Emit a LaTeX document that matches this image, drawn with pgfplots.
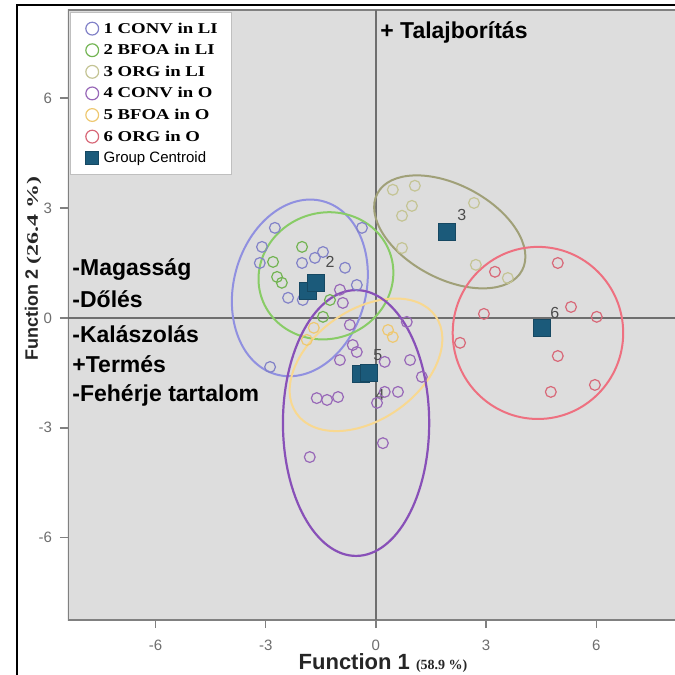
\documentclass[border=0pt]{standalone}
\usepackage{pgfplots}
\pgfplotsset{compat=1.18}
\usepackage{graphicx}
\usepackage{fontspec}
\setmainfont{Liberation Sans}
\newfontfamily\serif{Liberation Serif}
\definecolor{plotbg}{RGB}{221,221,221}
\definecolor{axcol}{RGB}{128,128,128}
\definecolor{crosscol}{RGB}{110,110,110}
\definecolor{ticcol}{RGB}{110,110,110}
\definecolor{cA}{HTML}{8282C8}
\definecolor{cB}{HTML}{72B452}
\definecolor{cC}{HTML}{C4C494}
\definecolor{cD}{HTML}{9868B8}
\definecolor{cE}{HTML}{EEC870}
\definecolor{cF}{HTML}{D86878}
\definecolor{eA}{HTML}{9090E0}
\definecolor{eB}{HTML}{88CC66}
\definecolor{eC}{HTML}{A0A078}
\definecolor{eD}{HTML}{8850B8}
\definecolor{eE}{HTML}{F8D890}
\definecolor{eF}{HTML}{EE7080}
\definecolor{cent}{HTML}{1B5A7A}
\begin{document}
\begin{tikzpicture}
\useasboundingbox (0pt,0pt) rectangle (337.5pt,337.5pt);
\fill[white] (0pt,0pt) rectangle (337.5pt,337.5pt);
\draw[black, line width=0.6pt] (8.5pt,-5pt) -- (8.5pt,335pt) -- (345pt,335pt);
\begin{axis}[
  at={(34pt,27.5pt)}, anchor=south west,
  width=303.5pt, height=305pt, scale only axis,
  xmin=-8.38, xmax=8.14, ymin=-8.25, ymax=8.41,
  axis background/.style={fill=plotbg},
  axis line style={draw=none},
  tick align=outside, xtick pos=left, ytick pos=left,
  major tick length=4pt,
  tick style={axcol, line width=0.8pt},
  xtick={-6,-3,0,3,6}, ytick={-6,-3,0,3,6},
  ticklabel style={font=\fontsize{7.5}{8}\selectfont, text=ticcol},
  xticklabel style={yshift=-2.5pt},
  yticklabel style={xshift=-0.5pt},
  /pgf/number format/assume math mode=true,
  legend cell align=left,
  legend style={at={(rel axis cs:0.004,0.996)}, anchor=north west,
    draw=gray!50, fill=white, line width=0.4pt,
    font=\fontsize{7.5}{8}\selectfont, inner xsep=6pt, inner ysep=2.5pt,
    row sep=0pt, nodes={inner sep=1pt, text height=6.6pt, text depth=2.2pt}},
  legend image code/.code={\path (-4.5pt,0pt) (4.5pt,0pt); \draw[#1] plot coordinates {(0pt,0pt)};},
  legend image post style={mark size=3.2pt},
]
% frame of plot area
\draw[axcol, line width=1.2pt] (rel axis cs:1.02,0) -- (rel axis cs:0,0) -- (rel axis cs:0,1) -- (rel axis cs:1.02,1);
% reference cross
\draw[crosscol, line width=0.7pt] (axis cs:0,-8.25) -- (axis cs:0,8.41);
\draw[crosscol, line width=0.7pt] (axis cs:-8.38,0) -- (axis cs:8.14,0);
% ellipses
\draw[eA, line width=1pt, rotate around={-15:(axis cs:-2.07,0.82)}] (axis cs:-2.07,0.82) ellipse [x radius=1.8, y radius=2.45];
\draw[eB, line width=1pt, rotate around={20:(axis cs:-1.36,1.15)}] (axis cs:-1.36,1.15) ellipse [x radius=1.85, y radius=1.72];
\draw[eC, line width=1pt, rotate around={-28:(axis cs:2.01,2.35)}] (axis cs:2.01,2.35) ellipse [x radius=2.23, y radius=1.28];
\draw[eE, line width=1pt, rotate around={35:(axis cs:-0.27,-1.28)}] (axis cs:-0.27,-1.28) ellipse [x radius=2.31, y radius=1.5];
\draw[eD, line width=1.1pt] (axis cs:-0.54,-2.87) ellipse [x radius=1.99, y radius=3.63];
\draw[eF, line width=1pt] (axis cs:4.41,-0.41) ellipse [x radius=2.32, y radius=2.35];
% groups
\addplot[only marks, mark=o, mark size=2.7pt, mark options={line width=0.6pt}, color=cA] coordinates {
(-2.75,2.46) (-3.10,1.94) (-3.16,1.50) (-1.66,1.64) (-1.44,1.80) (-2.01,1.50)
(-0.84,1.37) (-2.39,0.55) (-1.99,0.49) (-0.52,0.90) (-0.38,2.46) (-2.88,-1.34)};
\addlegendentry{\serif\bfseries\scalebox{1.25}[1]{1 CONV in LI}}
\addplot[only marks, mark=o, mark size=2.7pt, mark options={line width=0.6pt}, color=cB] coordinates {
(-2.01,1.94) (-2.80,1.53) (-2.69,1.12) (-2.56,0.96) (-1.25,0.49) (-1.44,0.03)};
\addlegendentry{\serif\bfseries\scalebox{1.25}[1]{2 BFOA in LI}}
\addplot[only marks, mark=o, mark size=2.7pt, mark options={line width=0.6pt}, color=cC] coordinates {
(0.46,3.50) (1.06,3.61) (0.98,3.06) (0.71,2.79) (2.67,3.14) (0.71,1.91) (2.72,1.45) (3.59,1.09)};
\addlegendentry{\serif\bfseries\scalebox{1.25}[1]{3 ORG in LI}}
\addplot[only marks, mark=o, mark size=2.7pt, mark options={line width=0.6pt}, color=cD] coordinates {
(-0.98,0.77) (-0.90,0.41) (-0.71,-0.19) (-0.63,-0.74) (-0.52,-0.93) (-0.98,-1.15)
(0.24,-1.20) (0.93,-1.15) (1.25,-1.61) (0.84,-0.11) (0.24,-2.02) (0.60,-2.02)
(0.03,-2.32) (-1.61,-2.19) (-1.33,-2.24) (-1.03,-2.16) (0.19,-3.42) (-1.80,-3.80)};
\addlegendentry{\serif\bfseries\scalebox{1.25}[1]{4 CONV in O}}
\addplot[only marks, mark=o, mark size=2.7pt, mark options={line width=0.6pt}, color=cE] coordinates {
(-1.69,-0.27) (-1.88,-0.60) (0.33,-0.33) (0.46,-0.52)};
\addlegendentry{\serif\bfseries\scalebox{1.25}[1]{5 BFOA in O}}
\addplot[only marks, mark=o, mark size=2.7pt, mark options={line width=0.6pt}, color=cF] coordinates {
(4.95,1.50) (3.24,1.26) (5.31,0.30) (6.01,0.03) (2.94,0.11) (2.29,-0.68)
(4.95,-1.04) (5.96,-1.83) (4.76,-2.02)};
\addlegendentry{\serif\bfseries\scalebox{1.25}[1]{6 ORG in O}}
\addplot[only marks, mark=square*, mark size=4.2pt, color=cent, mark options={fill=cent, draw=cent!80!black}] coordinates {
(-1.85,0.74) (-1.63,0.96) (1.93,2.35) (-0.41,-1.53) (-0.19,-1.50) (4.52,-0.27)};
\addlegendentry{Group Centroid}
% centroid labels
\node[font=\fontsize{8}{9}\selectfont, text=black!70] at (axis cs:-1.25,1.53) {2};
\node[font=\fontsize{8}{9}\selectfont, text=black!70] at (axis cs:2.34,2.81) {3};
\node[font=\fontsize{8}{9}\selectfont, text=black!70] at (axis cs:0.05,-1.01) {5};
\node[font=\fontsize{8}{9}\selectfont, text=black!70] at (axis cs:0.11,-2.10) {4};
\node[font=\fontsize{8}{9}\selectfont, text=black!70] at (axis cs:4.87,0.14) {6};
% variable annotations
\node[anchor=west, inner sep=0pt, font=\bfseries\fontsize{11.5}{12}\selectfont] at (axis cs:0.11,7.80) {+ Talajborítás};
\node[anchor=west, inner sep=0pt, font=\bfseries\fontsize{11.5}{12}\selectfont] at (axis cs:-8.27,1.31) {-Magasság};
\node[anchor=west, inner sep=0pt, font=\bfseries\fontsize{11.5}{12}\selectfont] at (axis cs:-8.27,0.52) {-Dőlés};
\node[anchor=west, inner sep=0pt, font=\bfseries\fontsize{11.5}{12}\selectfont] at (axis cs:-8.27,-0.44) {-Kalászolás};
\node[anchor=west, inner sep=0pt, font=\bfseries\fontsize{11.5}{12}\selectfont] at (axis cs:-8.27,-1.26) {+Termés};
\node[anchor=west, inner sep=0pt, font=\bfseries\fontsize{11.5}{12}\selectfont] at (axis cs:-8.27,-2.13) {-Fehérje tartalom};
\end{axis}
\node[font=\bfseries\fontsize{11}{12}\selectfont, text=black!85] at (191.5pt,6pt) {Function 1 {\serif\fontsize{7}{8}\selectfont (58.9 \%)}};
\node[rotate=90, font=\bfseries\fontsize{9}{10}\selectfont, text=black!85] at (16.5pt,203.3pt) {Function 2 {\serif\scalebox{1.5}[1]{\fontsize{8}{9}\selectfont (26.4 \%)}}};
\end{tikzpicture}
\end{document}
